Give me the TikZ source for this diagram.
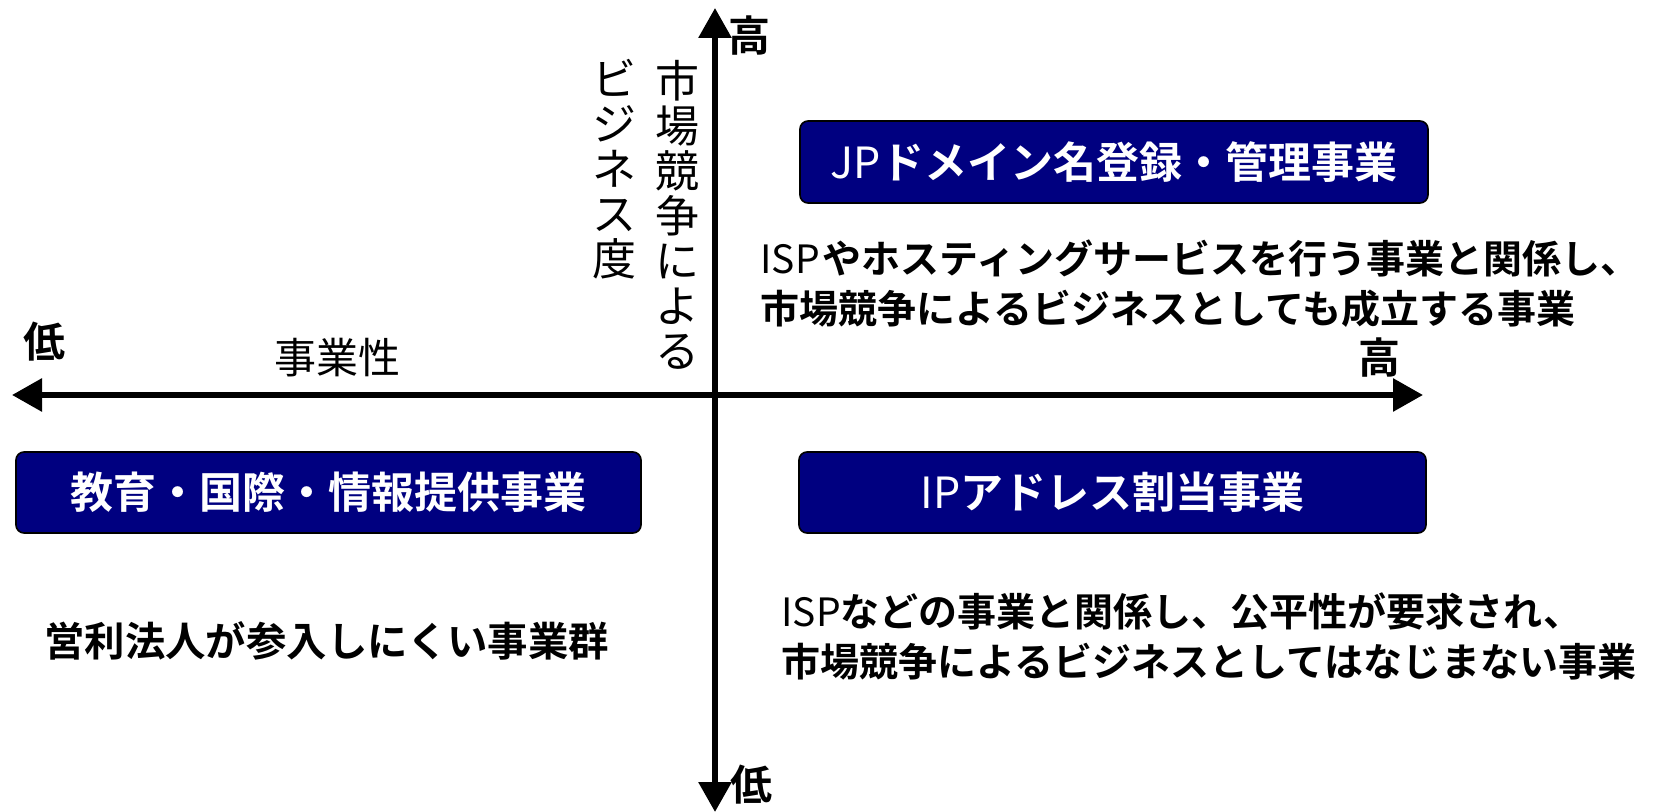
\documentclass[tikz,border=0pt]{standalone}
\usepackage{fontspec}
\usetikzlibrary{arrows.meta}
\newfontfamily\jp{Noto Sans CJK JP}[BoldFont={Noto Sans CJK JP Bold}]
\definecolor{navy}{RGB}{0,0,128}
\begin{document}
\begin{tikzpicture}[x=0.5pt,y=-0.5pt,
  axis/.style={line width=3pt, {Triangle[length=15pt,width=16pt]}-{Triangle[length=15pt,width=16pt]}},
  box/.style={draw=black, line width=0.8pt, fill=navy, rounded corners=4pt, text=white, inner sep=0pt, font=\jp\fontsize{21.5pt}{24pt}\selectfont\bfseries},
  desc/.style={font=\jp\fontsize{19.5pt}{25pt}\selectfont\bfseries, align=left, anchor=west, inner sep=0pt},
  ends/.style={font=\jp\fontsize{21pt}{24pt}\selectfont\bfseries, inner sep=0pt},
  vert/.style={font=\jp\fontsize{22pt}{22.5pt}\selectfont, align=center, inner sep=0pt}]
\useasboundingbox (0,0) rectangle (1656,812);
\coordinate (xl) at (12,395);
\coordinate (xr) at (1423,395);
\coordinate (yt) at (715,8);
\coordinate (yb) at (715,812);
\draw[axis] (xl) -- (xr);
\draw[axis] (yb) -- (yt);
\node[ends] (ht) at (749,36) {高};
\node[ends] (lb) at (751,785) {低};
\node[ends] (hr) at (1379,358) {高};
\node[ends] (ll) at (45,342) {低};
\node[font=\jp\fontsize{21pt}{24pt}\selectfont, inner sep=0pt] (xlab) at (337,358) {事業性};
\node[vert] (v1) at (677,215) {市\\場\\競\\争\\に\\よ\\る};
\node[vert] (v2) at (614,169) {ビ\\ジ\\ネ\\ス\\度};
\node[box, minimum width=314pt, minimum height=41pt] (b1) at (1114,162) {{\mdseries JP}ドメイン名登録・管理事業};
\node[box, minimum width=312.5pt, minimum height=40.5pt] (b2) at (328.5,492.5) {教育・国際・情報提供事業};
\node[box, minimum width=313.5pt, minimum height=40.5pt] (b3) at (1112.5,492.5) {{\mdseries IP}アドレス割当事業};
\node[desc] (d1) at (760,284) {{\mdseries ISP}\hspace{1.5pt}やホスティングサービスを行う事業と関係し、\\市場競争によるビジネスとしても成立する事業};
\node[desc] (d3) at (781,636) {{\mdseries ISP}などの事業と関係し、公平性が要求され、\\市場競争によるビジネスとしてはなじまない事業};
\node[desc, font=\jp\fontsize{20.2pt}{25pt}\selectfont\bfseries] (d2) at (44,641) {営利法人が参入しにくい事業群};
\end{tikzpicture}
\end{document}
